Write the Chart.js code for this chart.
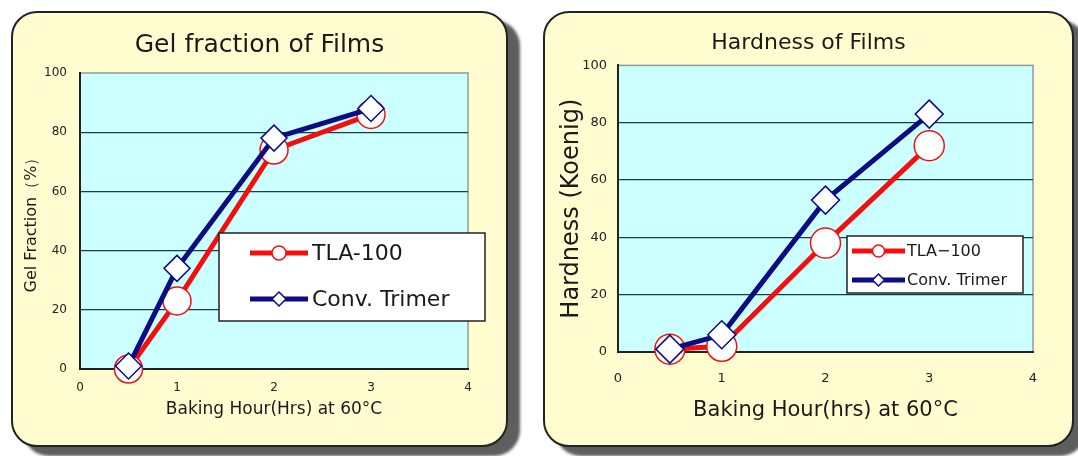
<!DOCTYPE html>
<html>
<head>
<meta charset="utf-8">
<script src="https://cdn.jsdelivr.net/npm/chart.js@4/dist/chart.umd.min.js"></script>
<style>
  html, body { margin: 0; padding: 0; background: #fff; overflow: hidden; }
  body { width: 1078px; height: 456px; position: relative; }
  .panel {
    position: absolute; box-sizing: border-box;
    background: #fffdd0; border: 2px solid #222; border-radius: 26px;
    box-shadow: 12px 9px 3px #5e5e5e;
  }
  canvas { position: absolute; }
</style>
</head>
<body>
<div class="panel" style="left:11px;top:11px;width:497px;height:436px;"></div>
<div class="panel" style="left:543px;top:11px;width:531px;height:436px;"></div>
<canvas id="gelChart" width="497" height="436" style="left:11px;top:11px;"></canvas>
<canvas id="hardChart" width="531" height="436" style="left:543px;top:11px;"></canvas>
<script>
// Data
const hours = [0.5, 1, 2, 3];
const seriesNames = ['TLA-100', 'Conv. Trimer'];
const gelTla = [0, 23, 74, 86];
const gelConv = [1, 34, 78, 88];
const hardTla = [1, 2, 38, 72];
const hardConv = [1, 6, 53, 83];
const xTicks = [0, 1, 2, 3, 4];
const yTicks = [0, 20, 40, 60, 80, 100];

const RED = '#f40f0f';
const NAVY = '#0c0c84';
const FONT = '"DejaVu Sans", "Liberation Sans", Arial, sans-serif';

Chart.defaults.font.family = FONT;
Chart.defaults.color = '#222';

function pts(ys) {
  return hours.map((h, i) => ({ x: h, y: ys[i] }));
}

function drawMarker(ctx, style, x, y, r, color) {
  ctx.save();
  ctx.beginPath();
  if (style === 'circle') {
    ctx.arc(x, y, r, 0, Math.PI * 2);
  } else {
    ctx.moveTo(x, y - r); ctx.lineTo(x + r, y); ctx.lineTo(x, y + r); ctx.lineTo(x - r, y); ctx.closePath();
  }
  ctx.fillStyle = '#fff';
  ctx.fill();
  ctx.lineWidth = 1.5;
  ctx.strokeStyle = color;
  ctx.stroke();
  ctx.restore();
}

// plot background + custom boxed legend
const panelPlugin = {
  id: 'panel',
  beforeDraw(chart) {
    const { ctx, chartArea: a } = chart;
    ctx.save();
    ctx.fillStyle = '#ccffff';
    ctx.fillRect(a.left, a.top, a.right - a.left, a.bottom - a.top);
    ctx.strokeStyle = '#8c9c9c';
    ctx.lineWidth = 1.5;
    ctx.strokeRect(a.left, a.top, a.right - a.left, a.bottom - a.top);
    ctx.restore();
  },
  afterDraw(chart, args, opts) {
    const ctx = chart.ctx;
    const b = opts.box;
    ctx.save();
    ctx.fillStyle = '#fff';
    ctx.fillRect(b[0], b[1], b[2], b[3]);
    ctx.strokeStyle = '#222';
    ctx.lineWidth = 1.5;
    ctx.strokeRect(b[0], b[1], b[2], b[3]);
    ctx.font = opts.fontSize + 'px ' + FONT;
    ctx.textBaseline = 'middle';
    const items = [
      { label: chart.data.datasets[1].label, color: RED, style: 'circle' },
      { label: chart.data.datasets[0].label, color: NAVY, style: 'diamond' }
    ];
    items.forEach((it, i) => {
      const y = opts.rows[i];
      ctx.strokeStyle = it.color;
      ctx.lineWidth = 5;
      ctx.beginPath();
      ctx.moveTo(opts.lineX[0], y);
      ctx.lineTo(opts.lineX[1], y);
      ctx.stroke();
      drawMarker(ctx, it.style, (opts.lineX[0] + opts.lineX[1]) / 2, y, opts.markerR, it.color);
      ctx.fillStyle = '#1a1a1a';
      const text = opts.minus ? it.label.replace('-', '\u2212') : it.label;
      ctx.fillText(text, opts.textX, y + 1);
    });
    ctx.restore();
  }
};

function makeChart(id, cfg) {
  return new Chart(document.getElementById(id), {
    type: 'line',
    data: {
      datasets: [
        {
          label: seriesNames[1], data: pts(cfg.conv), order: 0,
          borderColor: NAVY, borderWidth: 5, tension: 0, clip: false,
          pointStyle: 'rectRot', pointRadius: cfg.diamondR, pointHoverRadius: cfg.diamondR,
          pointBackgroundColor: '#fff', pointBorderColor: NAVY, pointBorderWidth: 1.5
        },
        {
          label: seriesNames[0], data: pts(cfg.tla), order: 1,
          borderColor: RED, borderWidth: 5, tension: 0, clip: false,
          pointStyle: 'circle', pointRadius: cfg.circleR, pointHoverRadius: cfg.circleR,
          pointBackgroundColor: '#fff', pointBorderColor: RED, pointBorderWidth: 1.5
        }
      ]
    },
    options: {
      responsive: false,
      animation: false,
      events: [],
      layout: { padding: 0 },
      plugins: {
        legend: { display: false },
        tooltip: { enabled: false },
        title: {
          display: true, text: cfg.title, color: '#1a1a1a',
          font: { size: cfg.titleSize, weight: 'normal' },
          padding: cfg.titlePad
        },
        panel: cfg.legend
      },
      scales: {
        x: {
          type: 'linear', min: xTicks[0], max: xTicks[xTicks.length - 1],
          afterBuildTicks: s => { s.ticks = xTicks.map(v => ({ value: v })); },
          afterFit: s => { s.height = cfg.xHeight; },
          grid: { drawOnChartArea: false, drawTicks: false },
          border: { color: '#222', width: 2 },
          ticks: { padding: cfg.xTickPad, font: { size: cfg.tickSize }, color: '#222' },
          title: {
            display: true, text: cfg.xTitle, color: '#1a1a1a',
            font: { size: cfg.xTitleSize }, padding: { top: 0, bottom: cfg.xTitlePad }
          }
        },
        y: {
          min: yTicks[0], max: yTicks[yTicks.length - 1],
          afterBuildTicks: s => { s.ticks = yTicks.map(v => ({ value: v })); },
          afterFit: s => { s.width = cfg.yWidth; },
          grid: {
            drawTicks: false, lineWidth: 1.2,
            color: c => (c.tick && c.tick.value === 100 ? 'rgba(0,0,0,0)' : '#1e3c3c')
          },
          border: { color: '#222', width: 2 },
          ticks: { padding: cfg.yTickPad, font: { size: cfg.tickSize }, color: '#222' },
          title: {
            display: true, text: cfg.yTitle, color: '#1a1a1a',
            font: { size: cfg.yTitleSize }, padding: { top: cfg.yTitlePad, bottom: 0 }
          }
        },
        // empty right margin so the title centres on the whole panel
        gap: {
          type: 'linear', position: 'right',
          grid: { display: false }, border: { display: false }, ticks: { display: false },
          afterFit: s => { s.width = cfg.padRight; }
        }
      }
    },
    plugins: [panelPlugin]
  });
}

makeChart('gelChart', {
  title: 'Gel fraction of Films', titleSize: 25, titlePad: { top: 19, bottom: 13 },
  xTitle: 'Baking Hour(Hrs) at 60\u00b0C', yTitle: 'Gel Fraction\uff08%\uff09',
  tla: gelTla, conv: gelConv, circleR: 14, diamondR: 13,
  padRight: 40, yWidth: 69, xHeight: 78, tickSize: 12, xTitleSize: 17, yTitleSize: 16,
  xTickPad: 12, yTickPad: 13, xTitlePad: 27, yTitlePad: 11,
  legend: { box: [208, 222, 266, 88], rows: [242, 288], lineX: [239, 297], textX: 301, fontSize: 22, markerR: 7 }
});

makeChart('hardChart', {
  title: 'Hardness of Films', titleSize: 22, titlePad: { top: 19, bottom: 9 },
  xTitle: 'Baking Hour(hrs) at 60\u00b0C', yTitle: 'Hardness (Koenig)',
  tla: hardTla, conv: hardConv, circleR: 15, diamondR: 14,
  padRight: 41, yWidth: 75, xHeight: 95, tickSize: 13, xTitleSize: 21, yTitleSize: 24,
  xTickPad: 19, yTickPad: 11, xTitlePad: 24, yTitlePad: 14,
  legend: { box: [304, 225, 176, 57], rows: [240, 269], lineX: [309, 362], textX: 364, fontSize: 16, markerR: 6, minus: true }
});
</script>
</body>
</html>
